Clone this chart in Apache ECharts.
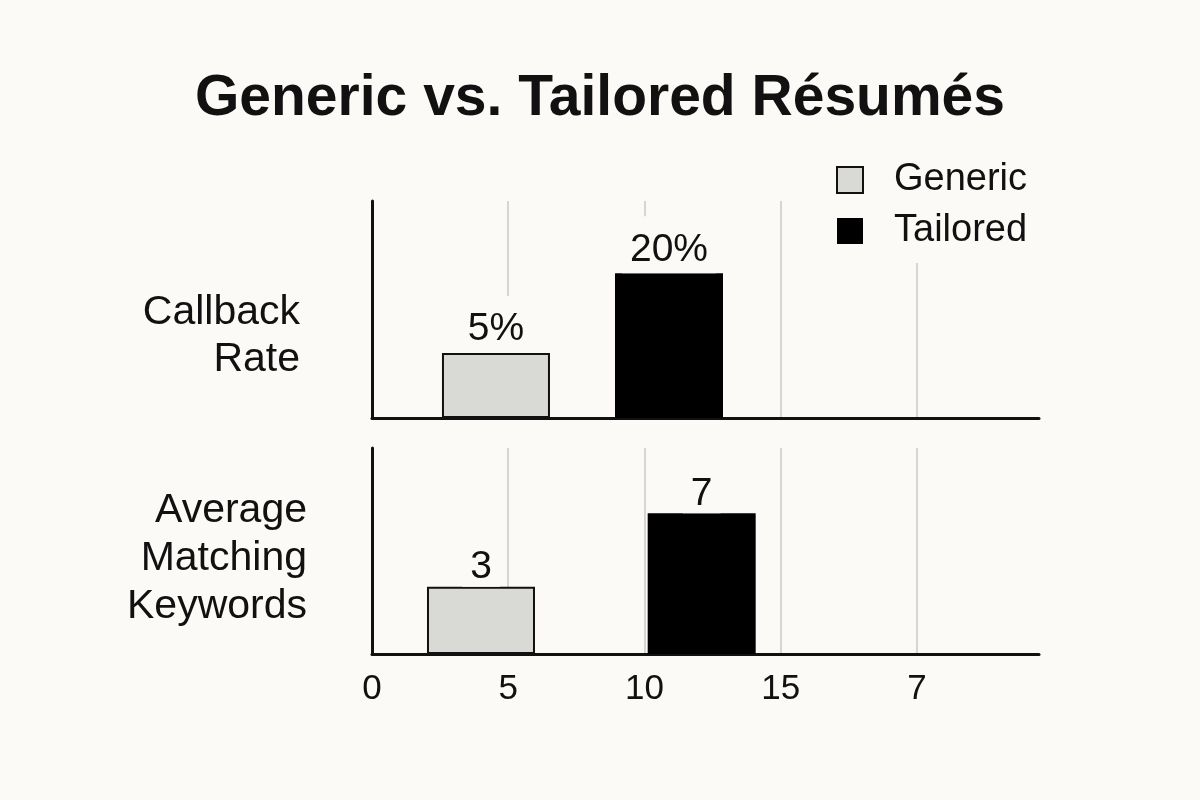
<!DOCTYPE html>
<html>
<head>
<meta charset="utf-8">
<script src="https://cdn.jsdelivr.net/npm/echarts@6/dist/echarts.min.js"></script>
<style>
  html, body { margin: 0; padding: 0; background: #fcfaf6; }
  #chart { width: 1200px; height: 800px; }
</style>
</head>
<body>
<div id="chart"></div>
<script>
// ---- data ----
const titleText = 'Generic vs. Tailored Résumés';
const seriesNames = ['Generic', 'Tailored'];
const panelNames = ['Callback\nRate', 'Average\nMatching\nKeywords'];
const xTickLabels = ['0', '5', '10', '15', '7'];

// Panel 1: Callback Rate (bar centre on x axis, bar height as drawn, printed label)
const callbackX = [4.55, 10.9];
const callbackHeight = [9, 20];
const callbackLabels = ['5%', '20%'];

// Panel 2: Average Matching Keywords
const keywordsX = [4.0, 12.1];
const keywordsHeight = [3.35, 7];
const keywordsLabels = ['3', '7'];

// ---- styles ----
const BG = '#fcfaf6';
const INK = '#111111';
const FONT = '"Liberation Sans", Arial, sans-serif';
const barStyles = [
  { color: '#d9d9d5', borderColor: INK, borderWidth: 2 },
  { color: '#000000', borderColor: '#000000', borderWidth: 0 }
];

const chart = echarts.init(document.getElementById('chart'));

function xAxisFor(gridIndex, showLabels) {
  return {
    type: 'value', gridIndex: gridIndex, min: 0, max: 24.48, interval: 5,
    axisLine: { show: true, lineStyle: { color: INK, width: 3 } },
    axisTick: { show: false },
    splitLine: { show: true, showMinLine: false, showMaxLine: false, lineStyle: { color: '#c8c8c6', width: 1.5 } },
    axisLabel: {
      show: showLabels, showMaxLabel: false, margin: 18,
      fontFamily: FONT, fontSize: 35, color: INK,
      formatter: function (v) { const l = xTickLabels[Math.round(v / 5)]; return l === undefined ? '' : l; }
    }
  };
}
function yAxisFor(gridIndex, max) {
  return {
    type: 'value', gridIndex: gridIndex, min: 0, max: max,
    axisLine: { show: true, onZero: false, lineStyle: { color: INK, width: 3 } },
    axisTick: { show: false }, axisLabel: { show: false }, splitLine: { show: false }
  };
}
function barSeries(si, gridIndex, xs, hs, labels, padBottom) {
  return {
    type: 'bar', name: seriesNames[si], xAxisIndex: gridIndex, yAxisIndex: gridIndex,
    barWidth: 108, barGap: '-100%',
    itemStyle: barStyles[si],
    data: [[xs[si], hs[si]]],
    label: {
      show: true, position: 'top', distance: 0,
      formatter: function () { return labels[si]; },
      fontFamily: FONT, fontSize: 39, color: INK,
      backgroundColor: BG, padding: [14, 8, padBottom, 8]
    },
    emphasis: { disabled: true },
    z: 3
  };
}

const option = {
  backgroundColor: BG,
  animation: false,
  title: {
    text: titleText, left: 'center', top: 66,
    textStyle: { fontFamily: FONT, fontSize: 57, fontWeight: 'bold', color: INK }
  },
  legend: {
    data: seriesNames, orient: 'vertical', left: 826, top: 151,
    itemWidth: 26, itemHeight: 26, itemGap: 13, icon: 'rect',
    padding: [10, 12, 13, 10], backgroundColor: BG,
    selectedMode: false,
    textStyle: { fontFamily: FONT, fontSize: 38, color: INK, padding: [0, 0, 0, 26] },
    z: 10
  },
  grid: [
    { left: 372, right: 161, top: 201, height: 217 },
    { left: 372, right: 161, top: 448, height: 206 }
  ],
  xAxis: [xAxisFor(0, false), xAxisFor(1, true)],
  yAxis: [yAxisFor(0, 30), yAxisFor(1, 10.25)],
  graphic: [
    { type: 'text', x: 300, y: 289, style: { text: panelNames[0], font: '41px ' + FONT, fill: INK, align: 'right', textAlign: 'right', lineHeight: 47 } },
    { type: 'text', x: 307, y: 487, style: { text: panelNames[1], font: '41px ' + FONT, fill: INK, align: 'right', textAlign: 'right', lineHeight: 48 } }
  ],
  series: [
    barSeries(0, 0, callbackX, callbackHeight, callbackLabels, 4),
    barSeries(1, 0, callbackX, callbackHeight, callbackLabels, 4),
    barSeries(0, 1, keywordsX, keywordsHeight, keywordsLabels, 0),
    barSeries(1, 1, keywordsX, keywordsHeight, keywordsLabels, 0)
  ]
};
chart.setOption(option);
</script>
</body>
</html>
